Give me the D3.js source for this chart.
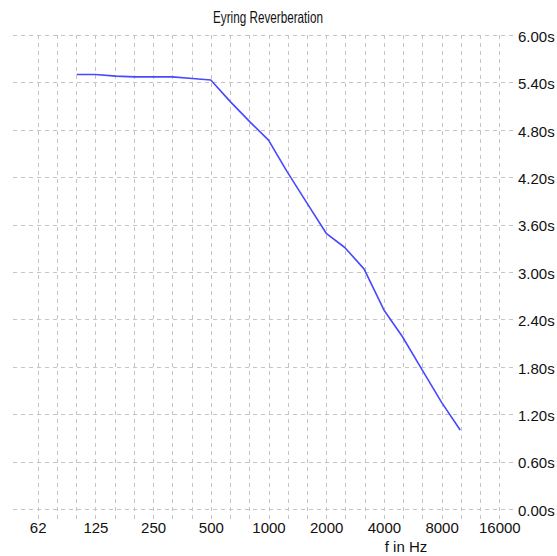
<!DOCTYPE html>
<html>
<head>
<meta charset="utf-8">
<script src="https://cdn.jsdelivr.net/npm/d3@7"></script>
<style>
  html, body { margin: 0; padding: 0; background: #fff; }
  svg { display: block; }
  text { font-family: "Liberation Sans", Arial, sans-serif; fill: #111; }
</style>
</head>
<body>
<svg id="chart" width="557" height="556"></svg>
<script>
// ---- data ----
const frequencies = [100, 125, 160, 200, 250, 315, 400, 500, 630, 800, 1000, 1250, 1600, 2000, 2500, 3150, 4000, 5000, 6300, 8000, 10000];
const reverbTimes = [5.50, 5.50, 5.48, 5.47, 5.47, 5.47, 5.45, 5.43, 5.16, 4.90, 4.67, 4.27, 3.86, 3.49, 3.31, 3.04, 2.52, 2.18, 1.77, 1.35, 1.00];
const xTickValues = [62.5, 125, 250, 500, 1000, 2000, 4000, 8000, 16000];
const xTickLabels = ["62", "125", "250", "500", "1000", "2000", "4000", "8000", "16000"];
const yTickValues = [0, 0.6, 1.2, 1.8, 2.4, 3.0, 3.6, 4.2, 4.8, 5.4, 6.0];
const yTickLabels = ["0.00s", "0.60s", "1.20s", "1.80s", "2.40s", "3.00s", "3.60s", "4.20s", "4.80s", "5.40s", "6.00s"];
const titleText = "Eyring Reverberation";
const xAxisTitle = "f in Hz";

// ---- layout ----
const svg = d3.select("#chart");
const x = d3.scaleLog().base(2).domain([62.5, 16000]).range([37.7, 499.3]);
const y = d3.scaleLinear().domain([0, 6]).range([509, 35]);
const gridColor = "#c4c4c4";

// third-octave grid positions
const thirdOctaves = d3.range(0, 25).map(k => 62.5 * Math.pow(2, k / 3));

const grid = svg.append("g");
grid.selectAll("line.v").data(thirdOctaves).join("line")
  .attr("class", "v")
  .attr("x1", d => Math.round(x(d)) + 0.5).attr("x2", d => Math.round(x(d)) + 0.5)
  .attr("y1", 35).attr("y2", 519)
  .attr("stroke", gridColor).attr("stroke-width", 1).attr("stroke-dasharray", "4,4");
grid.selectAll("line.h").data(yTickValues).join("line")
  .attr("class", "h")
  .attr("x1", 13).attr("x2", 515)
  .attr("y1", d => Math.round(y(d)) + 0.5).attr("y2", d => Math.round(y(d)) + 0.5)
  .attr("stroke", gridColor).attr("stroke-width", 1).attr("stroke-dasharray", "4,4");

// y axis labels (right)
const yAxis = d3.axisRight(y).tickValues(yTickValues).tickSize(0).tickPadding(0)
  .tickFormat((d, i) => yTickLabels[i]);
const gy = svg.append("g").attr("transform", "translate(518,1.5)").call(yAxis);
gy.select(".domain").remove();
gy.selectAll("text").attr("font-size", 15).attr("font-family", "Liberation Sans, Arial, sans-serif").attr("fill", "#111");

// x axis labels (bottom)
const xAxis = d3.axisBottom(x).tickValues(xTickValues).tickSize(0).tickPadding(0)
  .tickFormat((d, i) => xTickLabels[i]);
const gx = svg.append("g").attr("transform", "translate(0,509)").call(xAxis);
gx.select(".domain").remove();
gx.selectAll("text").attr("font-size", 15).attr("font-family", "Liberation Sans, Arial, sans-serif")
  .attr("fill", "#111").attr("y", 24).attr("dy", 0);

// axis title
svg.append("text").attr("x", 406).attr("y", 552).attr("text-anchor", "middle")
  .attr("font-size", 15).text(xAxisTitle);

// chart title
svg.append("text").attr("x", 268).attr("y", 23).attr("text-anchor", "middle")
  .attr("font-size", 16.5).attr("textLength", 110).attr("lengthAdjust", "spacingAndGlyphs")
  .text(titleText);

// data line
const data = frequencies.map((f, i) => ({ f, v: reverbTimes[i] }));
svg.append("path").datum(data)
  .attr("fill", "none").attr("stroke", "#4848ff").attr("stroke-width", 1.6)
  .attr("stroke-linejoin", "round")
  .attr("d", d3.line().x(d => x(d.f)).y(d => y(d.v)));
</script>
</body>
</html>
